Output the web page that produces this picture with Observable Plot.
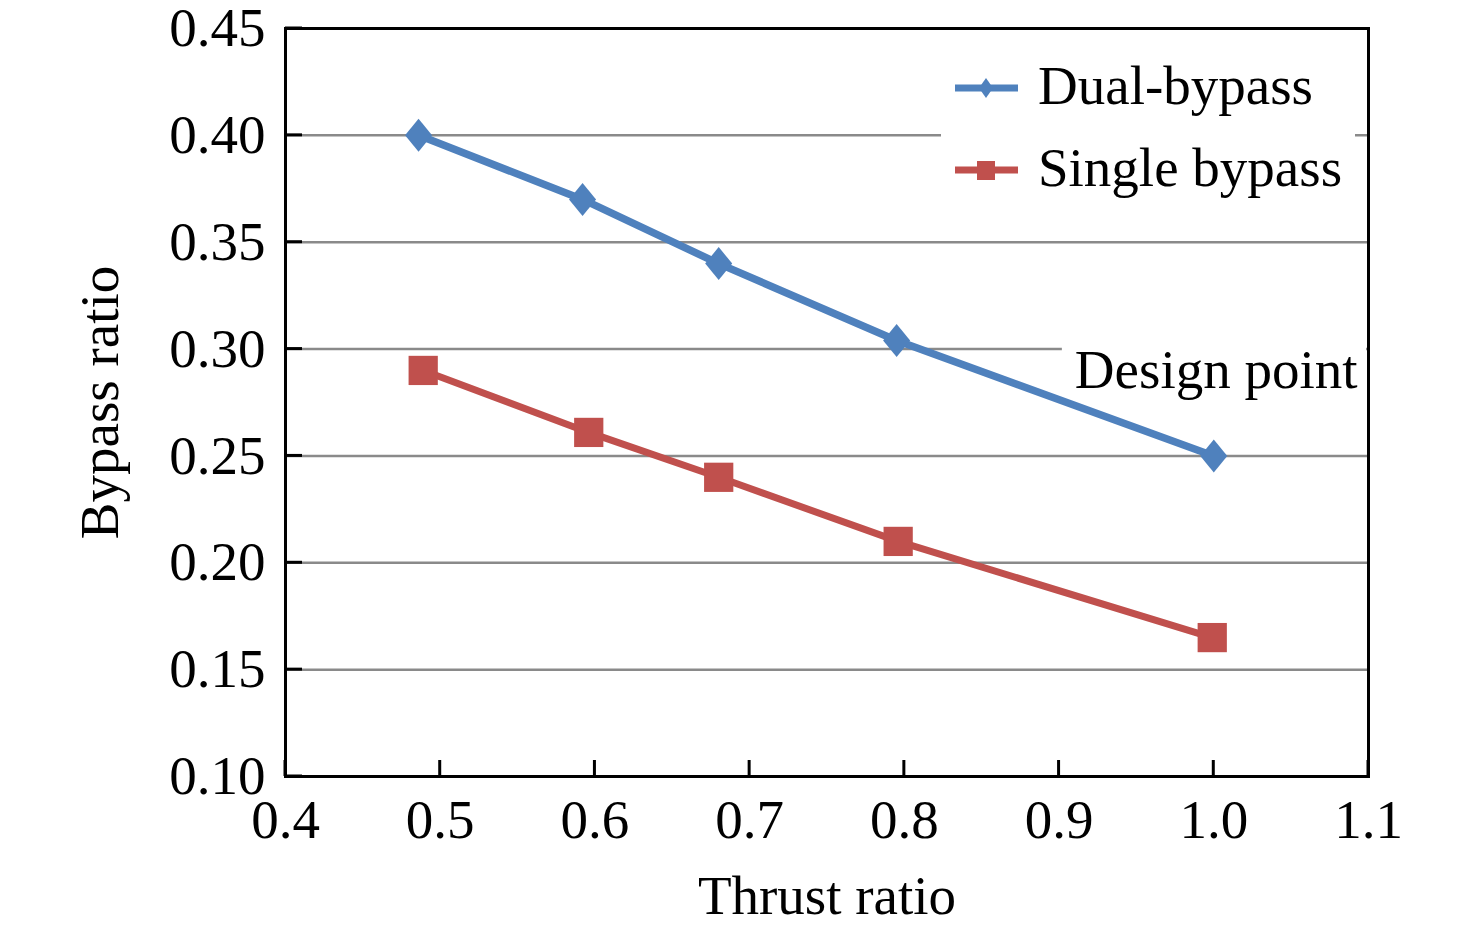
<!DOCTYPE html>
<html><head><meta charset="utf-8">
<script src="https://cdn.jsdelivr.net/npm/d3@7"></script>
<script src="https://cdn.jsdelivr.net/npm/@observablehq/plot@0.6"></script>
<style>body{margin:0;background:#fff}#chart{width:1476px;height:931px}</style>
</head><body><div id="chart"></div>
<script>
const thrustDual = [0.486, 0.592, 0.680, 0.795, 1.000];
const bypassDual = [0.400, 0.370, 0.340, 0.304, 0.250];
const thrustSingle = [0.489, 0.596, 0.680, 0.796, 0.999];
const bypassSingle = [0.290, 0.261, 0.240, 0.210, 0.165];
const seriesNames = ["Dual-bypass", "Single bypass"];
const seriesColors = ["#4F81BD", "#C0504D"];
const xTicks = [0.4, 0.5, 0.6, 0.7, 0.8, 0.9, 1.0, 1.1];
const yTicks = [0.10, 0.15, 0.20, 0.25, 0.30, 0.35, 0.40, 0.45];
const gridTicks = [0.15, 0.20, 0.25, 0.30, 0.35, 0.40];
const xLabel = "Thrust ratio";
const yLabel = "Bypass ratio";
const noteText = "Design point";
const noteY = [0.30];

const dual = thrustDual.map((x, i) => ({x, y: bypassDual[i]}));
const single = thrustSingle.map((x, i) => ({x, y: bypassSingle[i]}));

const diamondSym = {draw(ctx, size) {
  const h = Math.sqrt(size) * 0.62, w = h * 0.82;
  ctx.moveTo(0, -h); ctx.lineTo(w, 0); ctx.lineTo(0, h); ctx.lineTo(-w, 0); ctx.closePath();
}};
const squareSym = {draw(ctx, size) {
  const s = Math.sqrt(size) / 2;
  ctx.rect(-s, -s, 2 * s, 2 * s);
}};

const W = 1476, H = 931, ML = 285, MR = 108, MT = 28, MB = 155;
const FW = W - ML - MR, FH = H - MT - MB;
const FONT = "'Liberation Serif', 'Times New Roman', serif";
const FS = 55;
const plot = Plot.plot({
  width: W, height: H,
  marginLeft: ML, marginRight: MR, marginTop: MT, marginBottom: MB,
  style: {fontFamily: FONT, fontSize: FS + "px", color: "#000", background: "#fff", overflow: "visible"},
  x: {domain: [0.4, 1.1]},
  y: {domain: [0.10, 0.45]},
  marks: [
    Plot.ruleY(gridTicks, {y: d => d, stroke: "#8a8a8a", strokeWidth: 2.5}),
    Plot.text(noteY, {y: d => d, frameAnchor: "right", text: () => noteText, textAnchor: "end", lineAnchor: "middle", dx: -11, dy: 21, fontSize: FS, fill: "#000"}),
    Plot.line(dual, {x: "x", y: "y", stroke: seriesColors[0], strokeWidth: 7.5}),
    Plot.line(single, {x: "x", y: "y", stroke: seriesColors[1], strokeWidth: 7}),
    Plot.dot(dual, {x: "x", y: "y", symbol: diamondSym, r: 15, fill: seriesColors[0], stroke: "none"}),
    Plot.dot(single, {x: "x", y: "y", symbol: squareSym, r: 16.5, fill: seriesColors[1], stroke: "none"}),
    Plot.frame({stroke: "#000", strokeWidth: 3}),
    Plot.axisX(xTicks, {tickSize: 0, tickPadding: 22, tickFormat: d3.format(".1f"), label: null, fontSize: FS}),
    Plot.axisY(yTicks, {tickSize: 0, tickPadding: 20, tickFormat: d3.format(".2f"), label: null, fontSize: FS}),
    Plot.text([xLabel], {text: d => d, frameAnchor: "bottom", textAnchor: "middle", lineAnchor: "bottom", dy: 137, fontSize: FS}),
    Plot.text([yLabel], {text: d => d, frameAnchor: "left", textAnchor: "middle", lineAnchor: "bottom", rotate: -90, dx: -168, fontSize: FS})
  ]
});
document.getElementById("chart").appendChild(plot);

const svg = d3.select(plot);
const xs = plot.scale("x"), ys = plot.scale("y");

// inward tick marks, positioned with the plot's own scales
const tg = svg.append("g").attr("stroke", "#000").attr("stroke-width", 3);
xTicks.forEach(v => {
  const px = xs.apply(v);
  tg.append("line").attr("x1", px).attr("x2", px).attr("y1", MT + FH - 16).attr("y2", MT + FH);
});
yTicks.forEach(v => {
  const py = ys.apply(v);
  tg.append("line").attr("x1", ML).attr("x2", ML + 17).attr("y1", py).attr("y2", py);
});

// white box behind the "Design point" note, breaking the grid line
const noteEl = Array.from(plot.querySelectorAll("text")).find(t => t.textContent === noteText);
const lineG = plot.querySelector('g[aria-label="line"]');
if (noteEl && lineG) {
  const svgBox = plot.getBoundingClientRect();
  const b = noteEl.getBoundingClientRect();
  const rect = document.createElementNS("http://www.w3.org/2000/svg", "rect");
  const x0 = b.left - svgBox.left - 13;
  const x1 = W - MR - 2;
  rect.setAttribute("x", x0);
  rect.setAttribute("y", b.top - svgBox.top - 4);
  rect.setAttribute("width", x1 - x0);
  rect.setAttribute("height", b.height + 4);
  rect.setAttribute("fill", "#fff");
  plot.insertBefore(rect, lineG);
  plot.insertBefore(noteEl.parentNode, lineG);
}

// legend
const lg = svg.append("g").attr("font-family", FONT).attr("font-size", FS).attr("text-anchor", "start");
lg.append("rect").attr("x", 941).attr("y", 48).attr("width", 414).attr("height", 160).attr("fill", "#fff");
const rows = [88, 170];
seriesNames.forEach((name, i) => {
  const y = rows[i];
  lg.append("line").attr("x1", 955).attr("x2", 1018).attr("y1", y).attr("y2", y)
    .attr("stroke", seriesColors[i]).attr("stroke-width", 7);
  if (i === 0) {
    lg.append("path").attr("d", "M986,78L993,88L986,98L979,88Z").attr("fill", seriesColors[i]);
  } else {
    lg.append("rect").attr("x", 977).attr("y", 161).attr("width", 18).attr("height", 19).attr("fill", seriesColors[i]);
  }
  lg.append("text").attr("x", 1038).attr("y", y + 16).attr("fill", "#000").attr("text-anchor", "start").text(name);
});
</script>
</body></html>
